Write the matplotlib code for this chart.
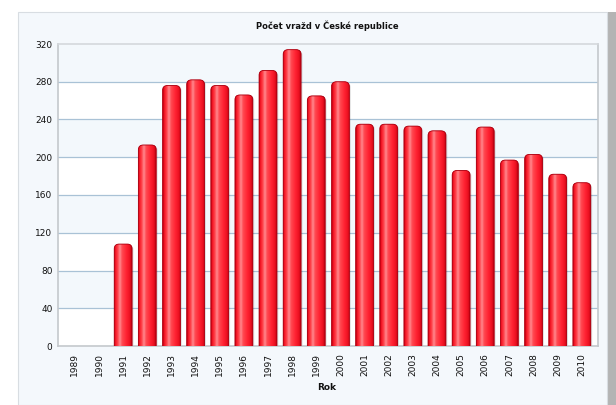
import matplotlib
matplotlib.use("Agg")
import matplotlib.pyplot as plt
import numpy as np
from matplotlib.patches import FancyBboxPatch, Rectangle
from matplotlib.colors import to_rgb

years = ["1989", "1990", "1991", "1992", "1993", "1994", "1995", "1996", "1997", "1998",
         "1999", "2000", "2001", "2002", "2003", "2004", "2005", "2006", "2007", "2008",
         "2009", "2010"]
murders = [0, 0, 108, 213, 276, 282, 276, 266, 292, 314,
           265, 280, 235, 235, 233, 228, 186, 232, 197, 203,
           182, 173]
yticks = [0, 40, 80, 120, 160, 200, 240, 280, 320]
title = "Počet vražd v České republice"
xlabel = "Rok"

W, H = 616, 405
fig = plt.figure(figsize=(W / 100, H / 100), dpi=100)
fig.patch.set_facecolor("white")

# outer panel with shadow
fig.patches.append(Rectangle((607 / W, 0), 9 / W, 1 - 12 / H, transform=fig.transFigure,
                             facecolor="#b4b4b4", edgecolor="none", zorder=-10))
fig.patches.append(Rectangle((18 / W, 0), 589 / W, 1 - 12 / H, transform=fig.transFigure,
                             facecolor="#f4f8fc", edgecolor="#d8dde2", lw=0.8, zorder=-9))

ax = fig.add_axes([58 / W, 1 - 346 / H, (598 - 58) / W, (346 - 44) / H])
ax.set_zorder(5)
ax.set_facecolor("white")
x = np.arange(len(years))
xlo, xhi = -0.7, len(years) - 0.33

# alternating bands
for i in range(len(yticks) - 1):
    if i % 2 == 1:
        ax.axhspan(yticks[i], yticks[i + 1], color="#f3f8fc", zorder=0, lw=0)
for t in yticks[1:-1]:
    ax.axhline(t, color="#a9c2d6", lw=0.9, zorder=1)

bw = 0.74
bars = ax.bar(x, murders, width=bw, color="#ff2030", zorder=2)

# gradient for glossy bars
stops = [(0.0, "#c00010"), (0.07, "#f41424"), (0.2, "#ff4048"), (0.33, "#ff8a90"),
         (0.45, "#ff4a52"), (0.7, "#ff2232"), (0.9, "#ea1020"), (1.0, "#b80010")]
n = 64
pos = np.linspace(0, 1, n)
grad = np.zeros((1, n, 3))
for c in range(3):
    grad[0, :, c] = np.interp(pos, [s[0] for s in stops], [to_rgb(s[1])[c] for s in stops])

asp = (320 / 302) / ((xhi - xlo) / 540)
for b in bars:
    h = b.get_height()
    b.set_visible(False)
    if h <= 0:
        continue
    x0, w = b.get_x(), b.get_width()
    sh = FancyBboxPatch((x0 + 0.06, -10), w, h + 10 - 1.0,
                        boxstyle="round,pad=0,rounding_size=0.2", mutation_aspect=asp,
                        facecolor="#000000", alpha=0.12, edgecolor="none", zorder=2)
    ax.add_patch(sh)
    p = FancyBboxPatch((x0, -10), w, h + 10,
                       boxstyle="round,pad=0,rounding_size=0.2", mutation_aspect=asp,
                       facecolor="#ff2030", edgecolor="none", zorder=3)
    ax.add_patch(p)
    im = ax.imshow(grad, extent=[x0, x0 + w, 0, h], aspect="auto", zorder=3.5,
                   interpolation="bilinear")
    im.set_clip_path(p)
    p2 = FancyBboxPatch((x0, -10), w, h + 10,
                        boxstyle="round,pad=0,rounding_size=0.2", mutation_aspect=asp,
                        facecolor="none", edgecolor="#a80010", lw=0.6, zorder=4)
    ax.add_patch(p2)

ax.set_xlim(xlo, xhi)
ax.set_ylim(0, 320)

ax.set_xticks(x)
ax.set_xticklabels(years, rotation=90, fontsize=6.5, color="#111111")
ax.set_yticks(yticks)
ax.set_yticklabels([str(t) for t in yticks], fontsize=6.5, color="#111111")
ax.tick_params(axis="y", length=0, pad=4)
ax.tick_params(axis="x", length=0, pad=5)
for s in ax.spines.values():
    s.set_color("#c4c8cc")
    s.set_linewidth(1.2)
ax.spines["top"].set_color("#d4d8dc")

fig.text(327 / W, 1 - 26 / H, title, ha="center", va="center", fontsize=6,
         fontweight="bold", color="#111111")
fig.text(327 / W, 1 - 387 / H, xlabel, ha="center", va="center", fontsize=6.5,
         fontweight="bold", color="#111111")

fig.savefig("out.png", dpi=100, facecolor=fig.get_facecolor())
